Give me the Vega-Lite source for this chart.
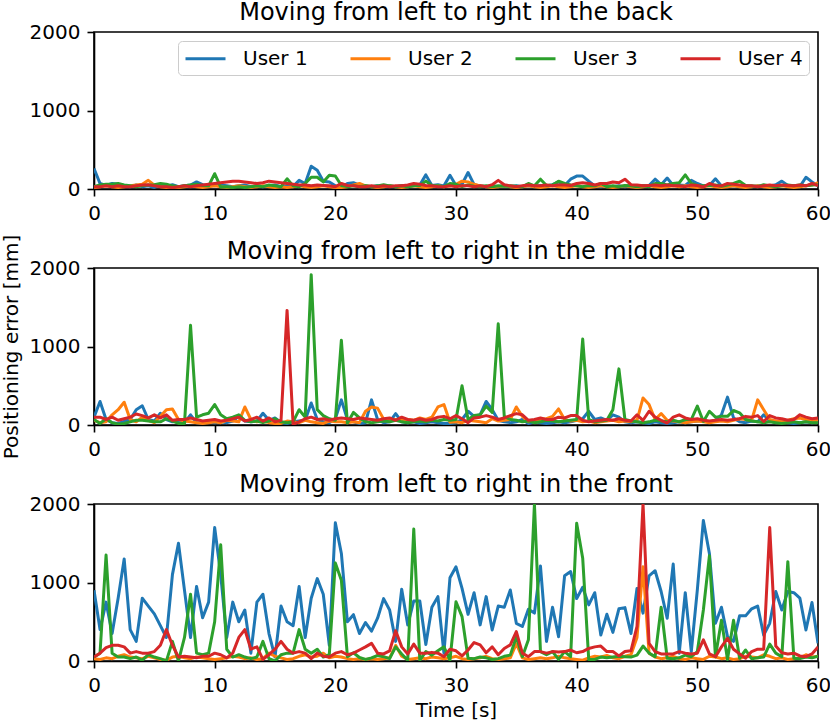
{
"$schema": "https://vega.github.io/schema/vega-lite/v6.json",
"padding": 0,
"background": "white",
"datasets": {
"back": [
{"t":0,"u1":260,"u2":20,"u3":30,"u4":30},{"t":0.5,"u1":70,"u2":30,"u3":50,"u4":30},{"t":1,"u1":45,"u2":40,"u3":60,"u4":40},{"t":1.5,"u1":70,"u2":30,"u3":60,"u4":30},
{"t":2,"u1":60,"u2":20,"u3":70,"u4":40},{"t":2.5,"u1":40,"u2":30,"u3":50,"u4":30},{"t":3,"u1":30,"u2":40,"u3":40,"u4":30},{"t":3.5,"u1":50,"u2":50,"u3":30,"u4":40},
{"t":4,"u1":30,"u2":60,"u3":40,"u4":50},{"t":4.5,"u1":40,"u2":110,"u3":50,"u4":55},{"t":5,"u1":20,"u2":50,"u3":55,"u4":40},{"t":5.5,"u1":50,"u2":30,"u3":70,"u4":30},
{"t":6,"u1":30,"u2":20,"u3":60,"u4":30},{"t":6.5,"u1":55,"u2":30,"u3":40,"u4":20},{"t":7,"u1":30,"u2":20,"u3":30,"u4":30},{"t":7.5,"u1":40,"u2":30,"u3":40,"u4":40},
{"t":8,"u1":50,"u2":40,"u3":50,"u4":30},{"t":8.5,"u1":90,"u2":30,"u3":60,"u4":40},{"t":9,"u1":55,"u2":20,"u3":45,"u4":50},{"t":9.5,"u1":40,"u2":30,"u3":40,"u4":60},
{"t":10,"u1":40,"u2":40,"u3":195,"u4":70},{"t":10.5,"u1":50,"u2":30,"u3":25,"u4":80},{"t":11,"u1":40,"u2":20,"u3":30,"u4":90},{"t":11.5,"u1":30,"u2":30,"u3":20,"u4":100},
{"t":12,"u1":40,"u2":40,"u3":30,"u4":100},{"t":12.5,"u1":50,"u2":30,"u3":20,"u4":90},{"t":13,"u1":30,"u2":20,"u3":30,"u4":80},{"t":13.5,"u1":40,"u2":30,"u3":40,"u4":70},
{"t":14,"u1":30,"u2":40,"u3":30,"u4":80},{"t":14.5,"u1":40,"u2":30,"u3":50,"u4":100},{"t":15,"u1":50,"u2":20,"u3":40,"u4":90},{"t":15.5,"u1":30,"u2":30,"u3":30,"u4":80},
{"t":16,"u1":40,"u2":20,"u3":130,"u4":70},{"t":16.5,"u1":30,"u2":30,"u3":40,"u4":60},{"t":17,"u1":110,"u2":40,"u3":30,"u4":50},{"t":17.5,"u1":70,"u2":30,"u3":70,"u4":50},
{"t":18,"u1":290,"u2":20,"u3":150,"u4":40},{"t":18.5,"u1":240,"u2":30,"u3":150,"u4":50},{"t":19,"u1":100,"u2":40,"u3":90,"u4":45},{"t":19.5,"u1":90,"u2":30,"u3":175,"u4":40},
{"t":20,"u1":40,"u2":20,"u3":165,"u4":30},{"t":20.5,"u1":25,"u2":20,"u3":45,"u4":70},{"t":21,"u1":70,"u2":30,"u3":30,"u4":45},{"t":21.5,"u1":80,"u2":50,"u3":40,"u4":40},
{"t":22,"u1":50,"u2":70,"u3":30,"u4":30},{"t":22.5,"u1":40,"u2":40,"u3":40,"u4":30},{"t":23,"u1":30,"u2":30,"u3":30,"u4":40},{"t":23.5,"u1":40,"u2":20,"u3":40,"u4":30},
{"t":24,"u1":30,"u2":30,"u3":55,"u4":40},{"t":24.5,"u1":40,"u2":40,"u3":40,"u4":30},{"t":25,"u1":30,"u2":30,"u3":30,"u4":40},{"t":25.5,"u1":40,"u2":20,"u3":40,"u4":40},
{"t":26,"u1":30,"u2":30,"u3":30,"u4":50},{"t":26.5,"u1":40,"u2":40,"u3":40,"u4":70},{"t":27,"u1":50,"u2":30,"u3":45,"u4":60},{"t":27.5,"u1":180,"u2":20,"u3":100,"u4":45},
{"t":28,"u1":45,"u2":30,"u3":45,"u4":40},{"t":28.5,"u1":55,"u2":40,"u3":40,"u4":30},{"t":29,"u1":40,"u2":30,"u3":30,"u4":30},{"t":29.5,"u1":175,"u2":40,"u3":70,"u4":40},
{"t":30,"u1":45,"u2":60,"u3":60,"u4":30},{"t":30.5,"u1":60,"u2":100,"u3":30,"u4":40},{"t":31,"u1":210,"u2":90,"u3":50,"u4":40},{"t":31.5,"u1":55,"u2":60,"u3":35,"u4":30},
{"t":32,"u1":40,"u2":40,"u3":30,"u4":40},{"t":32.5,"u1":30,"u2":30,"u3":40,"u4":30},{"t":33,"u1":40,"u2":20,"u3":30,"u4":55},{"t":33.5,"u1":30,"u2":30,"u3":40,"u4":110},
{"t":34,"u1":40,"u2":40,"u3":35,"u4":55},{"t":34.5,"u1":30,"u2":30,"u3":40,"u4":40},{"t":35,"u1":40,"u2":20,"u3":35,"u4":30},{"t":35.5,"u1":30,"u2":30,"u3":30,"u4":40},
{"t":36,"u1":40,"u2":40,"u3":70,"u4":50},{"t":36.5,"u1":30,"u2":30,"u3":40,"u4":40},{"t":37,"u1":45,"u2":20,"u3":125,"u4":40},{"t":37.5,"u1":40,"u2":30,"u3":45,"u4":50},
{"t":38,"u1":55,"u2":40,"u3":50,"u4":40},{"t":38.5,"u1":90,"u2":30,"u3":100,"u4":50},{"t":39,"u1":45,"u2":20,"u3":70,"u4":50},{"t":39.5,"u1":125,"u2":30,"u3":50,"u4":45},
{"t":40,"u1":165,"u2":40,"u3":40,"u4":70},{"t":40.5,"u1":165,"u2":30,"u3":30,"u4":80},{"t":41,"u1":100,"u2":20,"u3":45,"u4":70},{"t":41.5,"u1":40,"u2":30,"u3":40,"u4":50},
{"t":42,"u1":30,"u2":40,"u3":70,"u4":70},{"t":42.5,"u1":40,"u2":30,"u3":30,"u4":70},{"t":43,"u1":30,"u2":20,"u3":40,"u4":90},{"t":43.5,"u1":40,"u2":30,"u3":30,"u4":80},
{"t":44,"u1":30,"u2":40,"u3":45,"u4":125},{"t":44.5,"u1":40,"u2":30,"u3":40,"u4":55},{"t":45,"u1":30,"u2":20,"u3":30,"u4":50},{"t":45.5,"u1":40,"u2":30,"u3":40,"u4":40},
{"t":46,"u1":45,"u2":40,"u3":30,"u4":45},{"t":46.5,"u1":125,"u2":30,"u3":70,"u4":50},{"t":47,"u1":55,"u2":20,"u3":70,"u4":40},{"t":47.5,"u1":140,"u2":30,"u3":50,"u4":50},
{"t":48,"u1":45,"u2":40,"u3":70,"u4":40},{"t":48.5,"u1":50,"u2":30,"u3":80,"u4":40},{"t":49,"u1":45,"u2":40,"u3":180,"u4":30},{"t":49.5,"u1":110,"u2":30,"u3":70,"u4":50},
{"t":50,"u1":70,"u2":20,"u3":45,"u4":45},{"t":50.5,"u1":40,"u2":30,"u3":40,"u4":25},{"t":51,"u1":45,"u2":40,"u3":45,"u4":70},{"t":51.5,"u1":130,"u2":30,"u3":50,"u4":45},
{"t":52,"u1":40,"u2":20,"u3":35,"u4":40},{"t":52.5,"u1":30,"u2":30,"u3":50,"u4":70},{"t":53,"u1":40,"u2":40,"u3":70,"u4":60},{"t":53.5,"u1":30,"u2":30,"u3":100,"u4":50},
{"t":54,"u1":40,"u2":20,"u3":45,"u4":40},{"t":54.5,"u1":30,"u2":30,"u3":40,"u4":40},{"t":55,"u1":40,"u2":40,"u3":30,"u4":30},{"t":55.5,"u1":30,"u2":30,"u3":55,"u4":40},
{"t":56,"u1":40,"u2":20,"u3":40,"u4":50},{"t":56.5,"u1":55,"u2":30,"u3":30,"u4":40},{"t":57,"u1":100,"u2":40,"u3":40,"u4":50},{"t":57.5,"u1":45,"u2":30,"u3":50,"u4":45},
{"t":58,"u1":40,"u2":20,"u3":40,"u4":40},{"t":58.5,"u1":30,"u2":30,"u3":50,"u4":50},{"t":59,"u1":150,"u2":40,"u3":40,"u4":40},{"t":59.5,"u1":90,"u2":50,"u3":50,"u4":70},
{"t":60,"u1":45,"u2":80,"u3":55,"u4":45}
],
"middle": [
{"t":0,"u1":100,"u2":60,"u3":70,"u4":100},{"t":0.5,"u1":300,"u2":30,"u3":20,"u4":100},{"t":1,"u1":70,"u2":40,"u3":80,"u4":70},{"t":1.5,"u1":30,"u2":130,"u3":30,"u4":100},
{"t":2,"u1":20,"u2":195,"u3":10,"u4":60},{"t":2.5,"u1":45,"u2":290,"u3":20,"u4":80},{"t":3,"u1":70,"u2":70,"u3":40,"u4":100},{"t":3.5,"u1":195,"u2":40,"u3":60,"u4":140},
{"t":4,"u1":245,"u2":100,"u3":60,"u4":120},{"t":4.5,"u1":70,"u2":60,"u3":50,"u4":90},{"t":5,"u1":50,"u2":30,"u3":40,"u4":130},{"t":5.5,"u1":150,"u2":110,"u3":40,"u4":90},
{"t":6,"u1":70,"u2":195,"u3":80,"u4":130},{"t":6.5,"u1":40,"u2":205,"u3":50,"u4":60},{"t":7,"u1":50,"u2":70,"u3":20,"u4":70},{"t":7.5,"u1":30,"u2":50,"u3":20,"u4":70},
{"t":8,"u1":130,"u2":40,"u3":1270,"u4":90},{"t":8.5,"u1":30,"u2":30,"u3":100,"u4":70},{"t":9,"u1":20,"u2":20,"u3":130,"u4":50},{"t":9.5,"u1":40,"u2":30,"u3":150,"u4":60},
{"t":10,"u1":30,"u2":40,"u3":260,"u4":70},{"t":10.5,"u1":40,"u2":30,"u3":130,"u4":50},{"t":11,"u1":30,"u2":60,"u3":80,"u4":60},{"t":11.5,"u1":50,"u2":50,"u3":100,"u4":80},
{"t":12,"u1":110,"u2":40,"u3":130,"u4":100},{"t":12.5,"u1":50,"u2":230,"u3":60,"u4":50},{"t":13,"u1":40,"u2":70,"u3":40,"u4":70},{"t":13.5,"u1":50,"u2":40,"u3":50,"u4":100},
{"t":14,"u1":150,"u2":50,"u3":30,"u4":50},{"t":14.5,"u1":60,"u2":30,"u3":50,"u4":90},{"t":15,"u1":90,"u2":20,"u3":80,"u4":40},{"t":15.5,"u1":30,"u2":20,"u3":40,"u4":60},
{"t":16,"u1":20,"u2":50,"u3":30,"u4":1460},{"t":16.5,"u1":40,"u2":40,"u3":40,"u4":10},{"t":17,"u1":50,"u2":30,"u3":195,"u4":40},{"t":17.5,"u1":60,"u2":60,"u3":100,"u4":80},
{"t":18,"u1":280,"u2":40,"u3":1915,"u4":100},{"t":18.5,"u1":70,"u2":30,"u3":195,"u4":70},{"t":19,"u1":40,"u2":20,"u3":120,"u4":80},{"t":19.5,"u1":30,"u2":50,"u3":80,"u4":60},
{"t":20,"u1":80,"u2":40,"u3":60,"u4":80},{"t":20.5,"u1":320,"u2":40,"u3":1080,"u4":90},{"t":21,"u1":70,"u2":30,"u3":25,"u4":80},{"t":21.5,"u1":40,"u2":40,"u3":160,"u4":70},
{"t":22,"u1":20,"u2":30,"u3":90,"u4":90},{"t":22.5,"u1":30,"u2":175,"u3":40,"u4":80},{"t":23,"u1":320,"u2":230,"u3":30,"u4":70},{"t":23.5,"u1":70,"u2":215,"u3":40,"u4":60},
{"t":24,"u1":30,"u2":75,"u3":50,"u4":80},{"t":24.5,"u1":40,"u2":60,"u3":40,"u4":90},{"t":25,"u1":145,"u2":70,"u3":60,"u4":60},{"t":25.5,"u1":40,"u2":60,"u3":40,"u4":100},
{"t":26,"u1":30,"u2":70,"u3":30,"u4":70},{"t":26.5,"u1":40,"u2":60,"u3":40,"u4":60},{"t":27,"u1":20,"u2":90,"u3":50,"u4":80},{"t":27.5,"u1":30,"u2":70,"u3":40,"u4":60},
{"t":28,"u1":40,"u2":100,"u3":60,"u4":70},{"t":28.5,"u1":30,"u2":230,"u3":50,"u4":100},{"t":29,"u1":20,"u2":260,"u3":70,"u4":110},{"t":29.5,"u1":20,"u2":35,"u3":60,"u4":80},
{"t":30,"u1":30,"u2":40,"u3":70,"u4":120},{"t":30.5,"u1":70,"u2":30,"u3":500,"u4":80},{"t":31,"u1":175,"u2":60,"u3":70,"u4":30},{"t":31.5,"u1":110,"u2":50,"u3":120,"u4":90},
{"t":32,"u1":130,"u2":40,"u3":130,"u4":100},{"t":32.5,"u1":300,"u2":30,"u3":240,"u4":120},{"t":33,"u1":195,"u2":80,"u3":160,"u4":100},{"t":33.5,"u1":60,"u2":50,"u3":1290,"u4":70},
{"t":34,"u1":40,"u2":60,"u3":110,"u4":90},{"t":34.5,"u1":30,"u2":70,"u3":70,"u4":120},{"t":35,"u1":40,"u2":230,"u3":60,"u4":145},{"t":35.5,"u1":70,"u2":110,"u3":40,"u4":130},
{"t":36,"u1":20,"u2":40,"u3":50,"u4":60},{"t":36.5,"u1":40,"u2":50,"u3":30,"u4":70},{"t":37,"u1":30,"u2":70,"u3":40,"u4":90},{"t":37.5,"u1":20,"u2":80,"u3":60,"u4":70},
{"t":38,"u1":30,"u2":110,"u3":50,"u4":70},{"t":38.5,"u1":40,"u2":205,"u3":40,"u4":100},{"t":39,"u1":30,"u2":70,"u3":50,"u4":90},{"t":39.5,"u1":40,"u2":50,"u3":60,"u4":120},
{"t":40,"u1":60,"u2":60,"u3":70,"u4":120},{"t":40.5,"u1":80,"u2":40,"u3":1095,"u4":60},{"t":41,"u1":175,"u2":50,"u3":70,"u4":40},{"t":41.5,"u1":70,"u2":30,"u3":40,"u4":50},
{"t":42,"u1":90,"u2":40,"u3":50,"u4":60},{"t":42.5,"u1":60,"u2":50,"u3":60,"u4":70},{"t":43,"u1":130,"u2":60,"u3":195,"u4":60},{"t":43.5,"u1":100,"u2":40,"u3":715,"u4":80},
{"t":44,"u1":40,"u2":50,"u3":70,"u4":60},{"t":44.5,"u1":30,"u2":40,"u3":50,"u4":50},{"t":45,"u1":40,"u2":60,"u3":40,"u4":130},{"t":45.5,"u1":30,"u2":345,"u3":30,"u4":60},
{"t":46,"u1":20,"u2":260,"u3":40,"u4":175},{"t":46.5,"u1":40,"u2":70,"u3":60,"u4":100},{"t":47,"u1":30,"u2":145,"u3":50,"u4":60},{"t":47.5,"u1":20,"u2":60,"u3":40,"u4":25},
{"t":48,"u1":30,"u2":50,"u3":60,"u4":100},{"t":48.5,"u1":40,"u2":40,"u3":40,"u4":130},{"t":49,"u1":30,"u2":30,"u3":70,"u4":90},{"t":49.5,"u1":40,"u2":40,"u3":70,"u4":70},
{"t":50,"u1":50,"u2":50,"u3":240,"u4":80},{"t":50.5,"u1":60,"u2":40,"u3":45,"u4":60},{"t":51,"u1":40,"u2":30,"u3":175,"u4":50},{"t":51.5,"u1":60,"u2":40,"u3":100,"u4":60},
{"t":52,"u1":130,"u2":50,"u3":110,"u4":70},{"t":52.5,"u1":355,"u2":40,"u3":110,"u4":60},{"t":53,"u1":90,"u2":60,"u3":185,"u4":70},{"t":53.5,"u1":40,"u2":80,"u3":155,"u4":80},
{"t":54,"u1":30,"u2":70,"u3":70,"u4":110},{"t":54.5,"u1":50,"u2":60,"u3":50,"u4":100},{"t":55,"u1":40,"u2":320,"u3":40,"u4":120},{"t":55.5,"u1":130,"u2":195,"u3":30,"u4":45},
{"t":56,"u1":50,"u2":70,"u3":40,"u4":120},{"t":56.5,"u1":30,"u2":50,"u3":30,"u4":90},{"t":57,"u1":40,"u2":40,"u3":20,"u4":80},{"t":57.5,"u1":30,"u2":60,"u3":30,"u4":60},
{"t":58,"u1":20,"u2":80,"u3":40,"u4":70},{"t":58.5,"u1":30,"u2":90,"u3":30,"u4":130},{"t":59,"u1":40,"u2":70,"u3":40,"u4":100},{"t":59.5,"u1":30,"u2":60,"u3":30,"u4":80},
{"t":60,"u1":40,"u2":60,"u3":30,"u4":90}
],
"front": [
{"t":0,"u1":900,"u2":30,"u3":50,"u4":50},{"t":0.5,"u1":400,"u2":20,"u3":100,"u4":100},{"t":1,"u1":750,"u2":40,"u3":1350,"u4":170},{"t":1.5,"u1":350,"u2":30,"u3":100,"u4":200},
{"t":2,"u1":800,"u2":60,"u3":50,"u4":200},{"t":2.5,"u1":1300,"u2":80,"u3":50,"u4":180},{"t":3,"u1":400,"u2":50,"u3":30,"u4":100},{"t":3.5,"u1":250,"u2":40,"u3":50,"u4":120},
{"t":4,"u1":800,"u2":30,"u3":10,"u4":100},{"t":4.5,"u1":700,"u2":60,"u3":80,"u4":100},{"t":5,"u1":600,"u2":40,"u3":50,"u4":120},{"t":5.5,"u1":450,"u2":20,"u3":30,"u4":200},
{"t":6,"u1":300,"u2":10,"u3":0,"u4":400},{"t":6.5,"u1":1100,"u2":50,"u3":250,"u4":200},{"t":7,"u1":1500,"u2":60,"u3":0,"u4":50},{"t":7.5,"u1":900,"u2":40,"u3":300,"u4":60},
{"t":8,"u1":300,"u2":30,"u3":850,"u4":50},{"t":8.5,"u1":950,"u2":50,"u3":100,"u4":40},{"t":9,"u1":550,"u2":40,"u3":80,"u4":60},{"t":9.5,"u1":750,"u2":30,"u3":100,"u4":60},
{"t":10,"u1":1700,"u2":20,"u3":500,"u4":100},{"t":10.5,"u1":1100,"u2":30,"u3":1480,"u4":80},{"t":11,"u1":300,"u2":40,"u3":150,"u4":40},{"t":11.5,"u1":750,"u2":60,"u3":50,"u4":100},
{"t":12,"u1":500,"u2":50,"u3":80,"u4":300},{"t":12.5,"u1":650,"u2":30,"u3":50,"u4":400},{"t":13,"u1":100,"u2":40,"u3":30,"u4":150},{"t":13.5,"u1":750,"u2":20,"u3":50,"u4":180},
{"t":14,"u1":850,"u2":30,"u3":250,"u4":20},{"t":14.5,"u1":350,"u2":100,"u3":30,"u4":80},{"t":15,"u1":50,"u2":60,"u3":0,"u4":150},{"t":15.5,"u1":700,"u2":40,"u3":80,"u4":250},
{"t":16,"u1":500,"u2":20,"u3":100,"u4":150},{"t":16.5,"u1":450,"u2":30,"u3":100,"u4":100},{"t":17,"u1":950,"u2":60,"u3":400,"u4":120},{"t":17.5,"u1":300,"u2":80,"u3":150,"u4":100},
{"t":18,"u1":800,"u2":50,"u3":100,"u4":30},{"t":18.5,"u1":1050,"u2":60,"u3":150,"u4":100},{"t":19,"u1":850,"u2":100,"u3":50,"u4":60},{"t":19.5,"u1":200,"u2":40,"u3":80,"u4":50},
{"t":20,"u1":1760,"u2":60,"u3":1250,"u4":100},{"t":20.5,"u1":1370,"u2":50,"u3":1030,"u4":120},{"t":21,"u1":500,"u2":30,"u3":55,"u4":80},{"t":21.5,"u1":590,"u2":20,"u3":105,"u4":100},
{"t":22,"u1":350,"u2":30,"u3":45,"u4":140},{"t":22.5,"u1":490,"u2":20,"u3":20,"u4":180},{"t":23,"u1":380,"u2":30,"u3":40,"u4":225},{"t":23.5,"u1":545,"u2":20,"u3":70,"u4":100},
{"t":24,"u1":795,"u2":30,"u3":55,"u4":90},{"t":24.5,"u1":650,"u2":40,"u3":30,"u4":130},{"t":25,"u1":250,"u2":200,"u3":180,"u4":385},{"t":25.5,"u1":915,"u2":60,"u3":90,"u4":180},
{"t":26,"u1":460,"u2":20,"u3":10,"u4":90},{"t":26.5,"u1":765,"u2":30,"u3":1680,"u4":215},{"t":27,"u1":765,"u2":40,"u3":10,"u4":100},{"t":27.5,"u1":210,"u2":30,"u3":120,"u4":100},
{"t":28,"u1":685,"u2":50,"u3":75,"u4":110},{"t":28.5,"u1":820,"u2":40,"u3":130,"u4":100},{"t":29,"u1":100,"u2":30,"u3":180,"u4":55},{"t":29.5,"u1":1060,"u2":40,"u3":10,"u4":150},
{"t":30,"u1":1200,"u2":60,"u3":755,"u4":130},{"t":30.5,"u1":925,"u2":30,"u3":565,"u4":65},{"t":31,"u1":595,"u2":20,"u3":35,"u4":140},{"t":31.5,"u1":870,"u2":30,"u3":30,"u4":235},
{"t":32,"u1":460,"u2":40,"u3":50,"u4":205},{"t":32.5,"u1":820,"u2":60,"u3":40,"u4":105},{"t":33,"u1":395,"u2":30,"u3":20,"u4":180},{"t":33.5,"u1":700,"u2":20,"u3":30,"u4":80},
{"t":34,"u1":685,"u2":30,"u3":60,"u4":160},{"t":34.5,"u1":905,"u2":40,"u3":75,"u4":205},{"t":35,"u1":480,"u2":220,"u3":310,"u4":375},{"t":35.5,"u1":440,"u2":40,"u3":55,"u4":100},
{"t":36,"u1":660,"u2":20,"u3":270,"u4":55},{"t":36.5,"u1":610,"u2":30,"u3":2000,"u4":120},{"t":37,"u1":1210,"u2":40,"u3":120,"u4":120},{"t":37.5,"u1":250,"u2":30,"u3":80,"u4":100},
{"t":38,"u1":685,"u2":40,"u3":120,"u4":120},{"t":38.5,"u1":310,"u2":60,"u3":20,"u4":115},{"t":39,"u1":1085,"u2":40,"u3":120,"u4":120},{"t":39.5,"u1":1140,"u2":30,"u3":55,"u4":140},
{"t":40,"u1":795,"u2":20,"u3":1755,"u4":105},{"t":40.5,"u1":940,"u2":10,"u3":1310,"u4":120},{"t":41,"u1":715,"u2":40,"u3":20,"u4":160},{"t":41.5,"u1":870,"u2":60,"u3":20,"u4":180},
{"t":42,"u1":330,"u2":50,"u3":50,"u4":190},{"t":42.5,"u1":595,"u2":70,"u3":40,"u4":120},{"t":43,"u1":365,"u2":40,"u3":50,"u4":120},{"t":43.5,"u1":665,"u2":30,"u3":60,"u4":65},
{"t":44,"u1":680,"u2":60,"u3":55,"u4":120},{"t":44.5,"u1":350,"u2":80,"u3":50,"u4":130},{"t":45,"u1":925,"u2":300,"u3":75,"u4":440},{"t":45.5,"u1":610,"u2":1200,"u3":190,"u4":2000},
{"t":46,"u1":1085,"u2":100,"u3":100,"u4":225},{"t":46.5,"u1":1150,"u2":50,"u3":55,"u4":120},{"t":47,"u1":885,"u2":30,"u3":685,"u4":90},{"t":47.5,"u1":545,"u2":40,"u3":35,"u4":90},
{"t":48,"u1":1235,"u2":60,"u3":30,"u4":90},{"t":48.5,"u1":100,"u2":30,"u3":40,"u4":120},{"t":49,"u1":870,"u2":20,"u3":75,"u4":100},{"t":49.5,"u1":120,"u2":40,"u3":55,"u4":90},
{"t":50,"u1":905,"u2":30,"u3":120,"u4":100},{"t":50.5,"u1":1790,"u2":20,"u3":650,"u4":270},{"t":51,"u1":1370,"u2":60,"u3":1340,"u4":90},{"t":51.5,"u1":480,"u2":50,"u3":55,"u4":55},
{"t":52,"u1":685,"u2":30,"u3":520,"u4":180},{"t":52.5,"u1":310,"u2":40,"u3":20,"u4":290},{"t":53,"u1":250,"u2":20,"u3":520,"u4":150},{"t":53.5,"u1":575,"u2":30,"u3":35,"u4":90},
{"t":54,"u1":575,"u2":60,"u3":140,"u4":35},{"t":54.5,"u1":665,"u2":50,"u3":30,"u4":120},{"t":55,"u1":700,"u2":40,"u3":40,"u4":150},{"t":55.5,"u1":330,"u2":80,"u3":50,"u4":150},
{"t":56,"u1":480,"u2":60,"u3":215,"u4":1700},{"t":56.5,"u1":885,"u2":30,"u3":100,"u4":190},{"t":57,"u1":650,"u2":40,"u3":55,"u4":105},{"t":57.5,"u1":885,"u2":20,"u3":1265,"u4":90},
{"t":58,"u1":870,"u2":30,"u3":35,"u4":100},{"t":58.5,"u1":800,"u2":40,"u3":30,"u4":65},{"t":59,"u1":395,"u2":80,"u3":50,"u4":55},{"t":59.5,"u1":745,"u2":50,"u3":40,"u4":90},
{"t":60,"u1":225,"u2":60,"u3":60,"u4":180}
]
},
"vconcat": [
{
"title": {"text": "Moving from left to right in the back", "offset": -3},
"width": 724, "height": 157,
"data": {"name": "back"},
"transform": [{"fold": ["u1","u2","u3","u4"], "as": ["user","v"]}],
"mark": {"type": "line", "strokeWidth": 3, "clip": true, "strokeJoin": "round"},
"encoding": {
"x": {"field": "t", "type": "quantitative", "scale": {"domain": [0,60], "nice": false}, "axis": {"title": null, "values": [0,10,20,30,40,50,60]}},
"y": {"field": "v", "type": "quantitative", "scale": {"domain": [0,2000], "nice": false}, "axis": {"title": null, "values": [0,1000,2000], "format": "d"}},
"color": {"field": "user", "type": "nominal",
"scale": {"domain": ["u1","u2","u3","u4"], "range": ["#1f77b4","#ff7f0e","#2ca02c","#d62728"]},
"legend": {"title": null, "orient": "top-right", "direction": "horizontal", "columns": 4, "offset": 9,
"symbolType": "M-1,0H3", "symbolSize": 400, "symbolStrokeWidth": 3, "labelFontSize": 20, "labelColor": "black",
"labelOffset": 36, "columnPadding": 36, "padding": 6, "strokeColor": "#cccccc", "fillColor": "rgba(255,255,255,0.8)",
"cornerRadius": 4, "labelLimit": 200, "labelExpr": "'User ' + substring(datum.label, 1)"}}
}
},
{
"title": {"text": "Moving from left to right in the middle", "offset": -30},
"width": 724, "height": 157,
"data": {"name": "middle"},
"transform": [{"fold": ["u1","u2","u3","u4"], "as": ["user","v"]}],
"mark": {"type": "line", "strokeWidth": 3, "clip": true, "strokeJoin": "round"},
"encoding": {
"x": {"field": "t", "type": "quantitative", "scale": {"domain": [0,60], "nice": false}, "axis": {"title": null, "values": [0,10,20,30,40,50,60]}},
"y": {"field": "v", "type": "quantitative", "scale": {"domain": [0,2000], "nice": false}, "axis": {"title": "Positioning error [mm]", "values": [0,1000,2000], "format": "d"}},
"color": {"field": "user", "type": "nominal",
"scale": {"domain": ["u1","u2","u3","u4"], "range": ["#1f77b4","#ff7f0e","#2ca02c","#d62728"]}, "legend": null}
}
},
{
"title": {"text": "Moving from left to right in the front", "offset": -3},
"width": 724, "height": 157,
"data": {"name": "front"},
"transform": [{"fold": ["u1","u2","u3","u4"], "as": ["user","v"]}],
"mark": {"type": "line", "strokeWidth": 3, "clip": true, "strokeJoin": "round"},
"encoding": {
"x": {"field": "t", "type": "quantitative", "scale": {"domain": [0,60], "nice": false}, "axis": {"title": "Time [s]", "titlePadding": 5, "values": [0,10,20,30,40,50,60]}},
"y": {"field": "v", "type": "quantitative", "scale": {"domain": [0,2000], "nice": false}, "axis": {"title": null, "values": [0,1000,2000], "format": "d"}},
"color": {"field": "user", "type": "nominal",
"scale": {"domain": ["u1","u2","u3","u4"], "range": ["#1f77b4","#ff7f0e","#2ca02c","#d62728"]}, "legend": null}
}
}
],
"spacing": 79,
"bounds": "flush",
"resolve": {"scale": {"color": "independent"}},
"config": {
"font": "DejaVu Sans",
"view": {"stroke": "black", "strokeWidth": 1.6},
"axis": {"domainColor": "black", "domainWidth": 1.6, "tickColor": "black", "tickWidth": 1.6, "tickSize": 7,
"labelFontSize": 20, "labelColor": "black", "labelPadding": 7, "labelFlush": false, "labelOverlap": false,
"titleFontSize": 20, "titleFontWeight": "normal", "titleColor": "black", "titlePadding": 8, "grid": false},
"title": {"fontSize": 24, "fontWeight": "normal", "color": "black"}
}
}
